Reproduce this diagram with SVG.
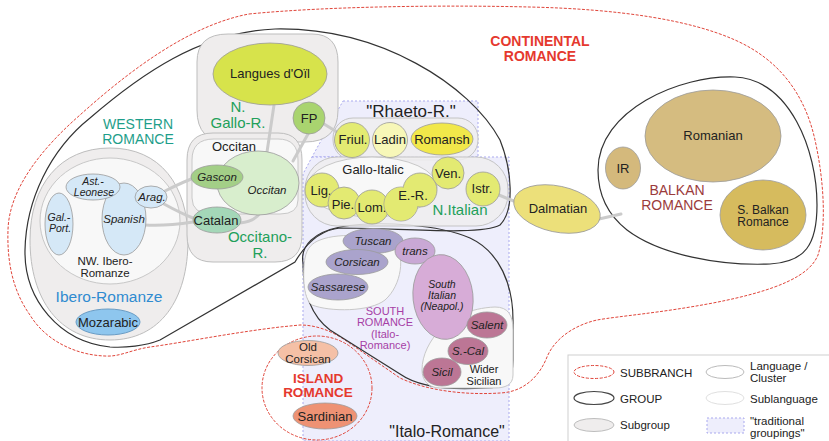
<svg xmlns="http://www.w3.org/2000/svg" width="829" height="441" viewBox="0 0 829 441">
<style>
text{font-family:"Liberation Sans",Arial,sans-serif;fill:#222;text-anchor:middle}
.l{font-size:13px}
.l2{font-size:11.5px}
.s{font-size:11.5px;font-style:italic}
.s2{font-size:10.5px;font-style:italic}
.sg{fill:#efeded;stroke:#bdbdbd;stroke-width:1}
.sgt{fill:#efedee;fill-opacity:0.85;stroke:#c4c4c4;stroke-width:1}
.cl{fill:#f8f8f8;stroke:#c8c8c8;stroke-width:1}
.grp{fill:none;stroke:#333;stroke-width:1.2}
.sb{fill:none;stroke:#e0453a;stroke-width:1;stroke-dasharray:3 1.5}
.trad{fill:#eeeefc;stroke:#a9a9ee;stroke-width:1;stroke-dasharray:2 2}
.n{stroke:#9a9a9a;stroke-width:0.8}
.c{fill:none;stroke:#cbcbcb;stroke-width:3;stroke-linecap:round}
.green{font-size:15px;fill:#22a05a}
.red{font-size:14px;font-weight:bold;fill:#e5392e}
.leg{font-size:11.5px;text-anchor:start}
.pur{font-size:11px;fill:#a63fa6}
</style>

<!-- traditional groupings -->
<g id="trad-rhaeto">
<path class="trad" d="M343,101 L478,101 L478,157 L312,157 Z"/>
<text x="411" y="117" style="font-size:17px">"Rhaeto-R."</text>
</g>
<g id="trad-italo">
<path class="trad" d="M312,157 L509,157 L509,441 L303,441 L303,174 Z"/>
<text x="447" y="437" style="font-size:16px">"Italo-Romance"</text>
</g>

<!-- Continental subbranch -->
<g id="continental">
<path class="sb" d="M249,14 C330,6 450,5 529,7 C620,9 690,20 735,40 C780,60 805,95 815,140 C825,185 826,230 818,255 C810,275 780,290 713,303 C660,313 620,316 597,320 C575,325 555,338 547,357 C540,375 525,392 500,393 C470,395 430,392 400,378 L345,340 C330,330 315,325 300,325 L280,327 C230,333 180,343 150,347 C130,350 120,357 105,356 C75,355 45,340 30,315 C12,290 7,260 8,230 C9,190 40,150 80,115 C130,70 190,25 249,14 Z"/>
<text class="red" x="540" y="46">CONTINENTAL</text>
<text class="red" x="540" y="60.5">ROMANCE</text>
</g>

<!-- Western Romance group -->
<g id="western">
<path class="grp" d="M110,347 C60,342 24,300 25,250 C26,200 50,150 90,118 C140,75 200,32 275,29 C380,27 470,85 500,140 C512,170 515,210 500,225 C480,236 400,228 340,228 C320,230 305,245 295,262 L160,340 C145,346 125,348 110,347 Z"/>
<text x="138" y="129" style="font-size:14px;fill:#1e9e8a">WESTERN</text>
<text x="138" y="143.5" style="font-size:14px;fill:#1e9e8a">ROMANCE</text>
</g>

<!-- South Romance group -->
<g id="south-romance">
<path class="grp" d="M303,263 C300,245 315,232 340,227 C380,220 440,225 470,238 C500,252 513,285 513,320 L513,360 C513,380 505,388 485,388 C455,390 420,388 400,374 L330,330 C310,315 303,290 303,263 Z"/>
<text class="pur" x="385" y="314.5">SOUTH</text>
<text class="pur" x="385" y="326">ROMANCE</text>
<text class="pur" x="385" y="337.5">(Italo-</text>
<text class="pur" x="385" y="349">Romance)</text>
</g>

<!-- Balkan Romance group -->
<g id="balkan">
<path class="grp" d="M598,170 C598,110 680,75 735,77 C790,80 817,150 817,205 C817,245 805,262 770,264 C720,266 660,255 627,230 C608,215 598,195 598,170 Z"/>
<text x="677" y="195" style="font-size:14px;fill:#9b3b3b">BALKAN</text>
<text x="677" y="209.5" style="font-size:14px;fill:#9b3b3b">ROMANCE</text>
</g>

<!-- Island Romance -->
<g id="island">
<ellipse class="sb" cx="317" cy="388" rx="55" ry="52"/>
<text class="red" x="318" y="383" style="font-size:13.5px">ISLAND</text>
<text class="red" x="318" y="397" style="font-size:13.5px">ROMANCE</text>
</g>

<!-- subgroups -->
<g id="ibero-romance">
<path class="sg" d="M110,148 C160,148 188,185 188,240 C188,300 160,340 110,340 C60,340 30,300 30,240 C30,185 60,148 110,148 Z"/>
<text x="109" y="302" style="font-size:15.5px;fill:#2f8bd0">Ibero-Romanze</text>
</g>
<g id="nw-ibero">
<ellipse class="cl" cx="110" cy="221" rx="70" ry="63"/>
<text class="l2" x="105" y="265">NW. Ibero-</text>
<text class="l2" x="105" y="277">Romanze</text>
</g>
<g id="n-gallo">
<path class="sg" d="M228,34 L312,34 Q338,34 338,62 L338,110 Q338,142 305,142 L228,142 Q197,142 197,110 L197,62 Q197,34 228,34 Z"/>
<text class="green" x="238" y="112">N.</text>
<text class="green" x="238" y="127.5">Gallo-R.</text>
</g>
<g id="occitano-r">
<path class="sg" d="M213,133 L278,133 Q302,133 302,160 L302,235 Q302,262 275,262 L213,262 Q187,262 187,235 L187,160 Q187,133 213,133 Z"/>
<text class="green" x="260" y="242">Occitano-</text>
<text class="green" x="260" y="257.5">R.</text>
</g>
<g id="occitan-cluster">
<path class="cl" d="M214,139 L278,139 Q298,139 298,160 L298,200 Q298,214 280,214 L212,214 Q192,214 192,198 L192,160 Q192,139 214,139 Z"/>
<text class="l" x="234" y="151">Occitan</text>
</g>
<g id="rhaeto-sub">
<rect class="sgt" x="333" y="118" width="145" height="42" rx="20"/>
</g>
<g id="n-italian">
<rect class="sgt" x="305" y="157" width="203" height="69" rx="32"/>
<text class="green" x="460" y="215">N.Italian</text>
</g>
<g id="gallo-italic">
<ellipse class="cl" cx="372" cy="187" rx="65" ry="30"/>
<text class="l" x="373" y="174">Gallo-Italic</text>
</g>
<g id="tuscan-sub">
<path class="cl" d="M320,240 C340,232 380,235 395,245 C405,255 402,285 385,300 C370,312 330,312 312,305 C302,298 303,270 305,258 C307,248 312,243 320,240 Z"/>
</g>
<g id="wider-sicilian">
<path class="cl" d="M440,330 C450,318 470,308 495,307 C508,307 513,315 513,330 L513,375 C513,385 505,388 495,388 L440,388 C428,388 422,380 422,370 C422,355 430,340 440,330 Z"/>
<text x="484" y="373" style="font-size:11px">Wider</text>
<text x="484" y="385" style="font-size:11px">Sicilian</text>
</g>

<!-- connectors -->
<g id="connectors">
<path class="c" d="M274,105 L267,152"/>
<path class="c" d="M308,134 L293,161"/>
<path class="c" d="M324,124 L337,132"/>
<path class="c" d="M165,191 C175,186 185,181 194,178"/>
<path class="c" d="M164,204 C175,210 185,215 193,218"/>
<path class="c" d="M145,225 C160,226 180,224 193,222"/>
<path class="c" d="M240,223 C250,222 257,218 261,212"/>
<path class="c" d="M499,195 L516,202"/>
<path class="c" d="M599,219 L621,214"/>
</g>

<!-- languages -->
<g id="langues-doil"><ellipse class="n" cx="270" cy="74" rx="57" ry="31" fill="#d7e34b"/><text class="l" x="270" y="78">Langues d'Oïl</text></g>
<g id="fp"><circle class="n" cx="309" cy="118" r="16" fill="#a9d46f"/><text class="l" x="309" y="123">FP</text></g>
<g id="occitan"><ellipse class="n" cx="258" cy="183" rx="41" ry="32" fill="#d8eecd"/><text class="s" x="267" y="194">Occitan</text></g>
<g id="gascon"><ellipse class="n" cx="217" cy="177" rx="26" ry="12" fill="#a3cf87"/><text class="s" x="217" y="181">Gascon</text></g>
<g id="catalan"><ellipse class="n" cx="217" cy="220" rx="24" ry="13" fill="#a4d7b8"/><text class="l" x="216" y="225">Catalan</text></g>
<g id="spanish"><ellipse class="n" cx="124" cy="219" rx="22" ry="36" fill="#d5e8f7"/><text class="s" x="124" y="223">Spanish</text></g>
<g id="ast-leonese"><ellipse class="n" cx="93" cy="187" rx="27" ry="13" fill="#d5e8f7"/><text class="s2" x="93" y="184.5">Ast.-</text><text class="s2" x="94" y="195.5">Leonese</text></g>
<g id="gal-port"><ellipse class="n" cx="59" cy="224" rx="14" ry="31" fill="#d5e8f7"/><text class="s2" x="59" y="221">Gal.-</text><text class="s2" x="60" y="232">Port.</text></g>
<g id="arag"><ellipse class="n" cx="151" cy="197" rx="16" ry="11" fill="#d5e8f7"/><text class="s" x="152" y="201">Arag.</text></g>
<g id="mozarabic"><ellipse cx="108" cy="322" rx="32" ry="13" fill="#8ec6ee" stroke="#6a9cc4" stroke-width="1"/><text class="l" x="108" y="327">Mozarabic</text></g>

<g id="friul"><circle class="n" cx="352" cy="140" r="17.5" fill="#e3eb72"/><text class="l" x="353" y="144">Friul.</text></g>
<g id="ladin"><circle class="n" cx="390" cy="140" r="17.5" fill="#f7f7b8"/><text class="l" x="390" y="144">Ladin</text></g>
<g id="romansh"><ellipse class="n" cx="442" cy="139" rx="31" ry="16" fill="#f1e84a"/><text class="l" x="442" y="144">Romansh</text></g>
<g id="lig"><circle class="n" cx="322" cy="190" r="17" fill="#e3ea72"/><text class="l" x="321" y="195">Lig.</text></g>
<g id="pie"><circle class="n" cx="344" cy="203" r="16" fill="#e3ea72"/><text class="l" x="343" y="209">Pie.</text></g>
<g id="lom"><circle class="n" cx="372" cy="207" r="17" fill="#e3ea72"/><text class="l" x="372" y="212">Lom.</text></g>
<g id="e-r"><circle class="n" cx="401" cy="204" r="17" fill="#e3ea72"/><circle class="n" cx="420" cy="190" r="17" fill="#e3ea72"/><circle cx="401" cy="204" r="16.5" fill="#e3ea72"/><text class="l" x="413" y="200">E.-R.</text></g>
<g id="ven"><circle class="n" cx="448" cy="173" r="16" fill="#e3ea72"/><text class="l" x="448" y="178">Ven.</text></g>
<g id="istr"><circle class="n" cx="483" cy="189" r="17" fill="#e3ea72"/><text class="l" x="482" y="193">Istr.</text></g>

<g id="dalmatian"><ellipse class="n" cx="557" cy="209" rx="44" ry="23" fill="#ece07a" transform="rotate(12 557 209)"/><text class="l" x="558" y="213">Dalmatian</text></g>
<g id="romanian"><ellipse class="n" cx="713" cy="136" rx="68" ry="46" fill="#d5bc80"/><text class="l" x="713" y="140">Romanian</text></g>
<g id="ir"><ellipse class="n" cx="623" cy="168" rx="17.5" ry="21" fill="#d4b97c"/><text class="l" x="623" y="173">IR</text></g>
<g id="s-balkan"><ellipse class="n" cx="763" cy="215" rx="43" ry="35" fill="#d6bb5e"/><text x="763" y="213.5" style="font-size:12px">S. Balkan</text><text x="763" y="226" style="font-size:12px">Romance</text></g>

<g id="tuscan"><ellipse class="n" cx="373" cy="241" rx="30" ry="12.5" fill="#aaa3cc"/><text class="s" x="373" y="245">Tuscan</text></g>
<g id="trans"><ellipse class="n" cx="415" cy="251" rx="20" ry="13" fill="#c9a8d5"/><text class="s" x="415" y="255">trans</text></g>
<g id="corsican"><ellipse class="n" cx="357" cy="262" rx="31" ry="12.5" fill="#aaa3cc"/><text class="s" x="357" y="266">Corsican</text></g>
<g id="sassarese"><ellipse class="n" cx="338" cy="287" rx="30" ry="13" fill="#aaa3cc"/><text class="s" x="338" y="291">Sassarese</text></g>
<g id="south-italian"><ellipse class="n" cx="443" cy="297" rx="30" ry="42.5" fill="#d7acd7" transform="rotate(-6 443 297)"/><text class="s2" x="442" y="287.5">South</text><text class="s2" x="442" y="298.5">Italian</text><text class="s2" x="442" y="309.5">(Neapol.)</text></g>
<g id="salent"><ellipse class="n" cx="487" cy="325" rx="20" ry="13" fill="#bc7695"/><text class="s" x="487" y="329">Salent</text></g>
<g id="s-cal"><ellipse class="n" cx="468" cy="351" rx="20" ry="13.5" fill="#bc7695"/><text class="s" x="468" y="355">S.-Cal</text></g>
<g id="sicil"><ellipse class="n" cx="442" cy="372" rx="19" ry="14" fill="#bc7695"/><text class="s" x="442" y="376">Sicil</text></g>

<g id="old-corsican"><ellipse class="n" cx="308" cy="353" rx="30" ry="12.5" fill="#f5c0a6"/><text class="l2" x="308" y="351">Old</text><text class="l2" x="308" y="363">Corsican</text></g>
<g id="sardinian"><ellipse class="n" cx="325" cy="416" rx="32" ry="13" fill="#ee9274"/><text class="l" x="325" y="421">Sardinian</text></g>

<!-- legend -->
<g id="legend">
<rect x="568" y="355" width="270" height="95" fill="#fff" stroke="#cfcfcf" stroke-width="1"/>
<ellipse class="sb" cx="594" cy="372" rx="20" ry="6.5"/>
<text class="leg" x="620" y="377">SUBBRANCH</text>
<ellipse cx="594" cy="398" rx="20" ry="6.5" fill="none" stroke="#444" stroke-width="1.2"/>
<text class="leg" x="620" y="403">GROUP</text>
<ellipse class="sg" cx="594" cy="425" rx="20" ry="6.5"/>
<text class="leg" x="620" y="429">Subgroup</text>
<ellipse cx="725" cy="372" rx="19" ry="6.5" fill="#fff" stroke="#bbb" stroke-width="1"/>
<text class="leg" x="750" y="370">Language /</text>
<text class="leg" x="750" y="382">Cluster</text>
<ellipse cx="725" cy="398" rx="19" ry="6.5" fill="#fff" stroke="#e0e0e0" stroke-width="1"/>
<text class="leg" x="750" y="403">Sublanguage</text>
<rect class="trad" x="707" y="418" width="37" height="15"/>
<text class="leg" x="750" y="424.5">"traditional</text>
<text class="leg" x="750" y="436.5">groupings"</text>
</g>
</svg>
